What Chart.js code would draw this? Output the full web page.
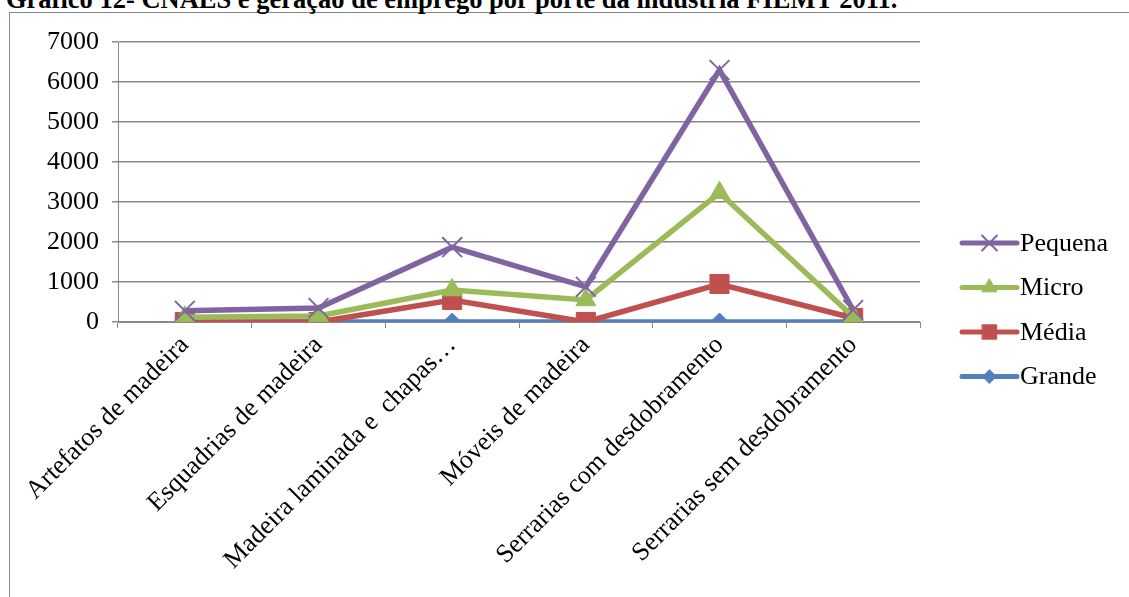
<!DOCTYPE html>
<html>
<head>
<meta charset="utf-8">
<script src="https://cdn.jsdelivr.net/npm/chart.js@4"></script>
<style>
  html, body { margin: 0; padding: 0; background: #fff; overflow: hidden; }
  #title {
    position: absolute; left: 6px; top: -16px; white-space: nowrap; line-height: 26.5px;
    font: bold 26.5px "Liberation Serif", "Times New Roman", serif; color: #000;
  }
  #box {
    position: absolute; left: 9px; top: 12px; width: 1130px; height: 600px;
    border: 1px solid #888; box-sizing: border-box; background: #fff;
  }
  #wrap { position: absolute; left: 10px; top: 13px; width: 1119px; height: 584px; }
</style>
</head>
<body>
<div id="box"></div>
<div id="title">Gráfico 12- CNAES e geração de emprego por porte da indústria FIEMT 2011.</div>
<div id="wrap"><canvas id="chart"></canvas></div>
<script>
// categories (CNAE) and employment by company size
const categories = [
  'Artefatos de madeira',
  'Esquadrias de madeira',
  'Madeira laminada e  chapas…',
  'Móveis de madeira',
  'Serrarias com desdobramento',
  'Serrarias sem desdobramento'
];
const pequena = [280, 350, 1870, 880, 6300, 300];
const micro = [120, 150, 800, 550, 3230, 130];
const media = [0, 0, 550, 0, 950, 100];
const grande = [0, 0, 0, 0, 0, 0];
const yTicks = [0, 1000, 2000, 3000, 4000, 5000, 6000, 7000];

const FONT = '"Liberation Serif", "Times New Roman", serif';
const FONT_SIZE = 26;

function series(label, data, color, style, radius) {
  return {
    label, data,
    borderColor: color,
    backgroundColor: color,
    borderWidth: 5.5,
    pointStyle: style,
    pointRadius: radius,
    pointHoverRadius: radius,
    pointBorderColor: color,
    pointBackgroundColor: color,
    pointBorderWidth: style === 'crossRot' ? 2 : 1,
    tension: 0
  };
}

// legend drawn like Excel: short line with the marker in the middle
const sideLegend = {
  id: 'sideLegend',
  afterDraw(chart) {
    const ctx = chart.ctx;
    const x0 = 952, x1 = 1007, startY = 230, step = 44.5;
    chart.data.datasets.forEach((ds, i) => {
      const y = startY + i * step;
      const r = ds.pointRadius * 0.75;
      ctx.save();
      ctx.strokeStyle = ds.borderColor;
      ctx.lineWidth = 5;
      ctx.lineCap = 'round';
      ctx.beginPath();
      ctx.moveTo(x0, y);
      ctx.lineTo(x1, y);
      ctx.stroke();
      ctx.fillStyle = ds.pointBackgroundColor;
      ctx.strokeStyle = ds.pointBorderColor;
      ctx.lineWidth = ds.pointBorderWidth;
      Chart.helpers.drawPoint(ctx, { pointStyle: ds.pointStyle, radius: r, borderWidth: ds.pointBorderWidth }, (x0 + x1) / 2, y);
      ctx.fillStyle = '#000';
      ctx.font = FONT_SIZE + 'px ' + FONT;
      ctx.textBaseline = 'middle';
      ctx.textAlign = 'left';
      ctx.fillText(ds.label, x1 + 3, y + 1);
      ctx.restore();
    });
  }
};

new Chart(document.getElementById('chart'), {
  type: 'line',
  data: {
    labels: categories,
    datasets: [
      series('Pequena', pequena, '#8064A2', 'crossRot', 14),
      series('Micro', micro, '#9BBB59', 'triangle', 11.5),
      series('Média', media, '#C0504D', 'rect', 13.5),
      series('Grande', grande, '#4F81BD', 'rectRot', 9)
    ]
  },
  options: {
    responsive: true,
    maintainAspectRatio: false,
    animation: false,
    layout: { padding: { left: 0, top: 29, right: 209, bottom: 0 } },
    plugins: {
      legend: { display: false },
      tooltip: { enabled: false }
    },
    scales: {
      x: {
        offset: true,
        afterFit(scale) { scale.height = 275; },
        grid: {
          offset: true,
          drawOnChartArea: false,
          drawTicks: true,
          tickLength: 6,
          color: '#888',
          lineWidth: 1
        },
        border: { display: true, color: '#888', width: 1 },
        ticks: {
          autoSkip: false,
          minRotation: 45,
          maxRotation: 45,
          padding: 2,
          color: '#000',
          font: { family: FONT, size: FONT_SIZE }
        }
      },
      y: {
        min: 0,
        max: 7000,
        afterFit(scale) { scale.width = 108; },
        afterBuildTicks(scale) { scale.ticks = yTicks.map(v => ({ value: v })); },
        grid: {
          color: '#888',
          lineWidth: 1.5,
          tickLength: 6
        },
        border: { display: true, color: '#888', width: 1 },
        ticks: {
          padding: 13,
          color: '#000',
          font: { family: FONT, size: FONT_SIZE },
          callback: v => String(v)
        }
      }
    }
  },
  plugins: [sideLegend]
});
</script>
</body>
</html>
